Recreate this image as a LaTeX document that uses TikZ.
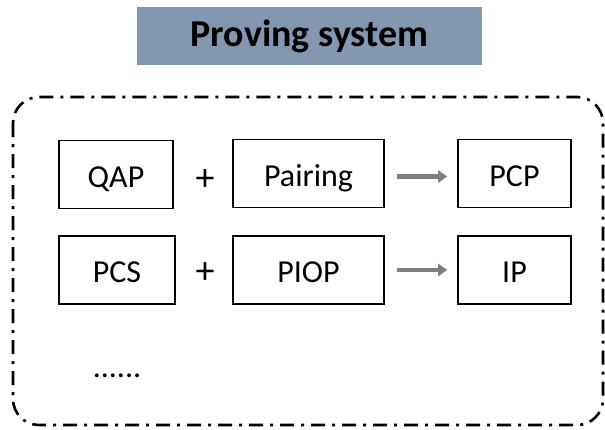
\documentclass[tikz,border=0pt]{standalone}
\usepackage{fontspec}
\setmainfont{Carlito}
\usepackage{xcolor}
\usepackage{tikz}
\usetikzlibrary{positioning,calc,arrows.meta}

\definecolor{titleblue}{HTML}{8497B0}
\definecolor{arrowgray}{HTML}{7F7F7F}

\tikzset{
	box/.style={draw=black, line width=1.6pt, minimum height=68pt, inner sep=0pt, text height=25pt, text depth=0pt, font=\fontsize{32}{38}\selectfont},
	sign/.style={inner sep=0pt, font=\fontsize{38}{44}\selectfont},
	goes/.style={draw=arrowgray, line width=4.5pt, -{Triangle[length=9pt,width=12pt]}, shorten <=12pt, shorten >=10pt}
}

\begin{document}
\begin{tikzpicture}[x=1pt,y=-1pt]
		\useasboundingbox (0,0) rectangle (605,429);
		
		% title bar
		\node[fill=titleblue, minimum width=345pt, minimum height=58pt, inner sep=0pt, font=\fontsize{38}{44}\selectfont\bfseries] (title) at (309.5,36) {Proving system};
		
		% outer frame
		\draw[line width=2.6pt, dash pattern=on 14pt off 7pt on 3pt off 7pt, rounded corners=26pt] (13,97) rectangle (603,425);
		
		% first row
		\node[box, minimum width=114pt] (qap) at (116,174.5) {QAP};
		\node[box, minimum width=151pt] (pairing) at (308.5,173.5) {Pairing};
		\node[box, minimum width=113pt] (pcp) at (514.5,173.5) {PCP};
		\node[sign] (plusA) at (205,180) {+};
		
		% second row
		\node[box, minimum width=116pt] (pcs) at (117,270) {PCS};
		\node[box, minimum width=151pt] (piop) at (308.5,270) {PIOP};
		\node[box, minimum width=113pt] (ip) at (514.5,270) {IP};
		\node[sign] (plusB) at (205,273) {+};
		
		\draw[goes] ([yshift=-3pt]pairing.east) -- ([yshift=-3pt]pcp.west);
		\draw[goes] (piop.east) -- (ip.west);
		
		\node[sign, anchor=base, font=\fontsize{32}{38}\selectfont] (more) at (117,377) {......};
\end{tikzpicture}
\end{document}
